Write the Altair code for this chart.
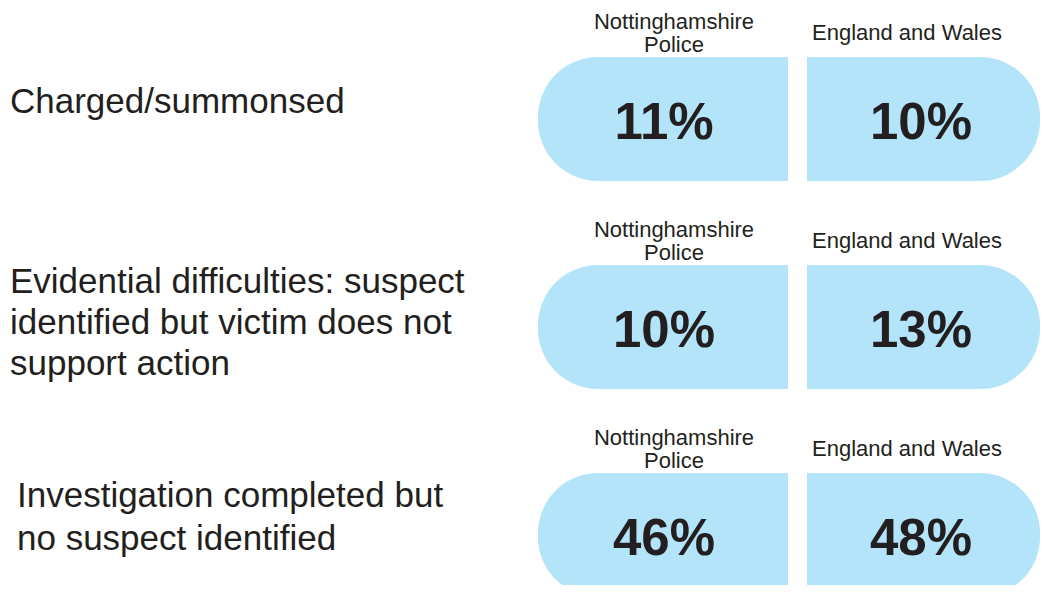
import altair as alt
import pandas as pd

# ---- data ----
categories = [
    "Charged/summonsed",
    "Evidential difficulties: suspect identified but victim does not support action",
    "Investigation completed but no suspect identified",
]
category_lines = [
    "Charged/summonsed",
    "Evidential difficulties: suspect\nidentified but victim does not\nsupport action",
    "Investigation completed but\nno suspect identified",
]
regions = ["Nottinghamshire Police", "England and Wales"]
region_headers = ["Nottinghamshire\nPolice", "England and Wales"]
notts_values = [11, 10, 46]
ew_values = [10, 13, 48]

rows = []
for i, cat in enumerate(categories):
    for r, reg in enumerate(regions):
        v = notts_values[i] if r == 0 else ew_values[i]
        rows.append({
            "category": cat,
            "label": category_lines[i],
            "row": i,
            "region": reg,
            "header": region_headers[r],
            "value": v,
            "pct": f"{v}%",
        })
df = pd.DataFrame(rows)

FILL = "#b3e4fa"
DARK = "#231f20"
FONT = "Liberation Sans"

x_enc = alt.X("region:N", axis=None,
              scale=alt.Scale(domain=regions, range=[530, 1049],
                              paddingInner=19 / 269, paddingOuter=0))
y_enc = alt.Y("category:N", axis=None,
              scale=alt.Scale(domain=categories, range=[49, 589],
                              paddingInner=84 / 208, paddingOuter=0))

base = alt.Chart(df).encode(x=x_enc, y=y_enc)

left_rect = base.transform_filter(alt.datum.region == regions[0]).mark_rect(
    color=FILL, cornerRadiusTopLeft=60, cornerRadiusBottomLeft=60)
right_rect = base.transform_filter(alt.datum.region == regions[1]).mark_rect(
    color=FILL, cornerRadiusTopRight=60, cornerRadiusBottomRight=60,
    width=233, xOffset=-8.5)

left_pct = base.transform_filter(alt.datum.region == regions[0]).mark_text(
    font=FONT, fontSize=51, fontWeight="bold", color=DARK,
    baseline="alphabetic", dy=20, dx=1).encode(text="pct:N")
right_pct = base.transform_filter(alt.datum.region == regions[1]).mark_text(
    font=FONT, fontSize=51, fontWeight="bold", color=DARK,
    baseline="alphabetic", dy=20, dx=-11).encode(text="pct:N")

left_head = base.transform_filter(alt.datum.region == regions[0]).mark_text(
    font=FONT, fontSize=22, color=DARK, baseline="alphabetic",
    lineBreak="\n", lineHeight=23, dy=-90, dx=11).encode(text="header:N")
right_head = base.transform_filter(alt.datum.region == regions[1]).mark_text(
    font=FONT, fontSize=22, color=DARK, baseline="alphabetic",
    lineBreak="\n", dy=-79, dx=-25).encode(text="header:N")

lab_base = alt.Chart(df).transform_filter(alt.datum.region == regions[0]).encode(
    y=y_enc, text="label:N")

lab1 = lab_base.transform_filter(alt.datum.row == 0).mark_text(
    font=FONT, fontSize=35, color=DARK, align="left", baseline="alphabetic",
    lineBreak="\n", dy=-6).encode(x=alt.value(2))
lab2 = lab_base.transform_filter(alt.datum.row == 1).mark_text(
    font=FONT, fontSize=35, color=DARK, align="left", baseline="alphabetic",
    lineBreak="\n", lineHeight=41, dy=-34).encode(x=alt.value(2))
lab3 = lab_base.transform_filter(alt.datum.row == 2).mark_text(
    font=FONT, fontSize=35, color=DARK, align="left", baseline="alphabetic",
    lineBreak="\n", lineHeight=43, dy=-28).encode(x=alt.value(9))

chart = alt.layer(
    left_rect, right_rect, left_pct, right_pct, left_head, right_head,
    lab1, lab2, lab3
).properties(
    width=1032, height=577, padding=0,
    autosize=alt.AutoSizeParams(type="none"),
    background="white",
).configure_view(stroke=None)

chart.save("out.html", embed_options={"renderer": "svg", "actions": False})
